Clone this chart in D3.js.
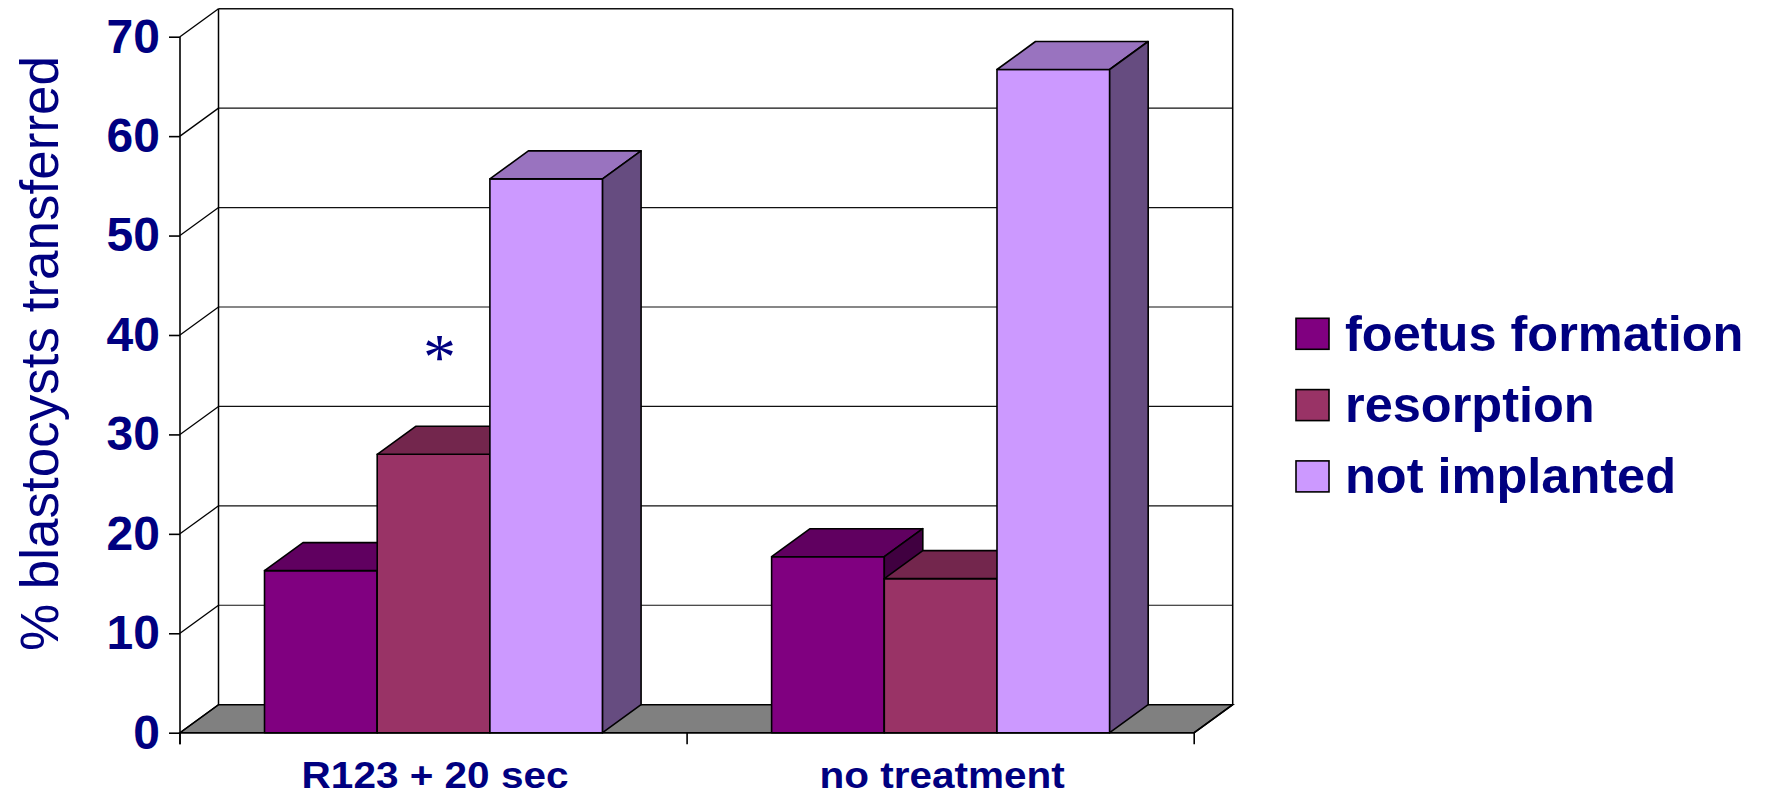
<!DOCTYPE html>
<html>
<head>
<meta charset="utf-8">
<script src="https://cdn.jsdelivr.net/npm/d3@7"></script>
<style>
  html, body { margin: 0; padding: 0; background: #fff; }
  svg { display: block; font-family: "Liberation Sans", Arial, sans-serif; }
</style>
</head>
<body>
<svg id="chart" width="1765" height="796"></svg>
<script>
// Groups, series and their percentages
const categories = ["R123 + 20 sec", "no treatment"];
const seriesNames = ["foetus formation", "resorption", "not implanted"];
const foetusFormation = [16.3, 17.7];
const resorption = [28.0, 15.5];
const notImplanted = [55.7, 66.7];
const yTicks = [0, 10, 20, 30, 40, 50, 60, 70];
const yTitle = "% blastocysts transferred";
const markerText = "*";
const markerPos = { category: "R123 + 20 sec", value: 38.8 };

const seriesValues = [foetusFormation, resorption, notImplanted];
const faceColors = {
  "foetus formation": { front: "#800080", top: "#600060", side: "#400040" },
  "resorption":       { front: "#993366", top: "#73264d", side: "#4d1a33" },
  "not implanted":    { front: "#cc99ff", top: "#9973bf", side: "#664c80" }
};
const navy = "#000080";

const svg = d3.select("#chart");

// Front plane geometry and the oblique depth offset of the 3D box
const left = 180, right = 1194.2;
const depthX = 38.5, depthY = -28;

const x = d3.scaleBand().domain(categories).range([left, right]).paddingInner(0).paddingOuter(0);
const xSub = d3.scaleBand().domain(seriesNames).range([0, x.bandwidth()]).paddingInner(0).paddingOuter(0.75);
const y = d3.scaleLinear().domain([0, 70]).range([732.7, 36.7]);

const back = (px, py) => [px + depthX, py + depthY];
const poly = pts => "M" + pts.map(p => p.join(",")).join("L") + "Z";

const walls = svg.append("g");

// Floor
walls.append("path")
  .attr("d", poly([[left, y(0)], [right, y(0)], back(right, y(0)), back(left, y(0))]))
  .attr("fill", "#808080").attr("stroke", "#000").attr("stroke-width", 1.5);

// Back-wall gridlines and side-wall diagonals
yTicks.forEach(v => {
  const [bx, by] = back(left, y(v));
  const [rx] = back(right, y(v));
  if (v > 0) {
    walls.append("line").attr("x1", bx).attr("x2", rx).attr("y1", by).attr("y2", by)
      .attr("stroke", "#111").attr("stroke-width", v === 70 ? 1.6 : 1.2);
  }
  walls.append("line").attr("x1", left).attr("y1", y(v)).attr("x2", bx).attr("y2", by)
    .attr("stroke", "#000").attr("stroke-width", 1.3);
});

// Wall edges
const [blx, bTop] = back(left, y(70));
const [, bBottom] = back(left, y(0));
const [brx] = back(right, y(0));
walls.append("line").attr("x1", blx).attr("x2", blx).attr("y1", bTop).attr("y2", bBottom)
  .attr("stroke", "#000").attr("stroke-width", 1.5);
walls.append("line").attr("x1", brx).attr("x2", brx).attr("y1", bTop).attr("y2", bBottom)
  .attr("stroke", "#000").attr("stroke-width", 1.5);

// 3D columns, drawn left to right so each column covers its neighbour's side face
const bw = xSub.bandwidth();
const bars = svg.append("g").attr("stroke", "#000").attr("stroke-width", 1.6).attr("stroke-linejoin", "round");
categories.forEach((cat, ci) => {
  seriesNames.forEach((name, si) => {
    const v = seriesValues[si][ci];
    const x0 = x(cat) + xSub(name), x1 = x0 + bw;
    const yt = y(v), yb = y(0);
    const c = faceColors[name];
    bars.append("path").attr("d", poly([[x0, yb], [x0, yt], [x1, yt], [x1, yb]])).attr("fill", c.front);
    bars.append("path").attr("d", poly([[x0, yt], back(x0, yt), back(x1, yt), [x1, yt]])).attr("fill", c.top);
    bars.append("path").attr("d", poly([[x1, yt], back(x1, yt), back(x1, yb), [x1, yb]])).attr("fill", c.side);
  });
});

// Front axis lines
const axes = svg.append("g").attr("stroke", "#000").attr("stroke-width", 1.6);
axes.append("line").attr("x1", left).attr("x2", left).attr("y1", y(70)).attr("y2", y(0) + 11.5);
axes.append("line").attr("x1", left).attr("x2", right).attr("y1", y(0)).attr("y2", y(0));
axes.append("line").attr("x1", right).attr("y1", y(0)).attr("x2", brx).attr("y2", bBottom);

// Y axis ticks and labels
const yAxis = d3.axisLeft(y).tickValues(yTicks).tickSize(11).tickPadding(9);
const gy = svg.append("g").attr("transform", `translate(${left},0)`).call(yAxis);
gy.select(".domain").remove();
gy.selectAll(".tick line").attr("stroke", "#000").attr("stroke-width", 1.6);
gy.selectAll(".tick text")
  .attr("fill", navy).attr("font-size", 48).attr("font-weight", "bold")
  .attr("font-family", "'Liberation Sans', Arial, sans-serif");

// X axis ticks at the category boundaries
const bounds = categories.map(c => x(c)).concat([right]);
svg.append("g").selectAll("line").data(bounds).join("line")
  .attr("x1", d => d).attr("x2", d => d).attr("y1", y(0)).attr("y2", y(0) + 11.5)
  .attr("stroke", "#000").attr("stroke-width", 1.6);

// Category labels
svg.append("g").selectAll("text").data(categories).join("text")
  .attr("x", d => x(d) + x.bandwidth() / 2 + 1.5)
  .attr("y", 788.3)
  .attr("text-anchor", "middle")
  .attr("fill", navy).attr("font-size", 36.5).attr("font-weight", "bold")
  .attr("transform", d => {
    const cx = x(d) + x.bandwidth() / 2 + 1.5;
    return `translate(${cx},0) scale(1.11,1) translate(${-cx},0)`;
  })
  .text(d => d);

// Y axis title
svg.append("text")
  .attr("transform", "translate(58,353.5) rotate(-90)")
  .attr("text-anchor", "middle")
  .attr("fill", navy).attr("font-size", 53)
  .text(yTitle);

// Significance marker
svg.append("text")
  .attr("x", x(markerPos.category) + xSub("resorption") + bw / 2 + 6)
  .attr("y", y(markerPos.value))
  .attr("dy", "0.48em")
  .attr("text-anchor", "middle")
  .attr("fill", navy)
  .attr("font-family", "'Liberation Serif', 'Times New Roman', serif")
  .attr("font-size", 66)
  .text(markerText);

// Legend
const legend = svg.append("g").attr("transform", "translate(1296,318.3)");
const rowH = 71.3;
seriesNames.forEach((name, i) => {
  const g = legend.append("g").attr("transform", `translate(0,${i * rowH})`);
  g.append("rect").attr("width", 33).attr("height", 31)
    .attr("fill", faceColors[name].front).attr("stroke", "#000").attr("stroke-width", 1.6);
  g.append("text").attr("x", 49).attr("y", 32.4)
    .attr("fill", navy).attr("font-size", 50.5).attr("font-weight", "bold")
    .text(name);
});
</script>
</body>
</html>
